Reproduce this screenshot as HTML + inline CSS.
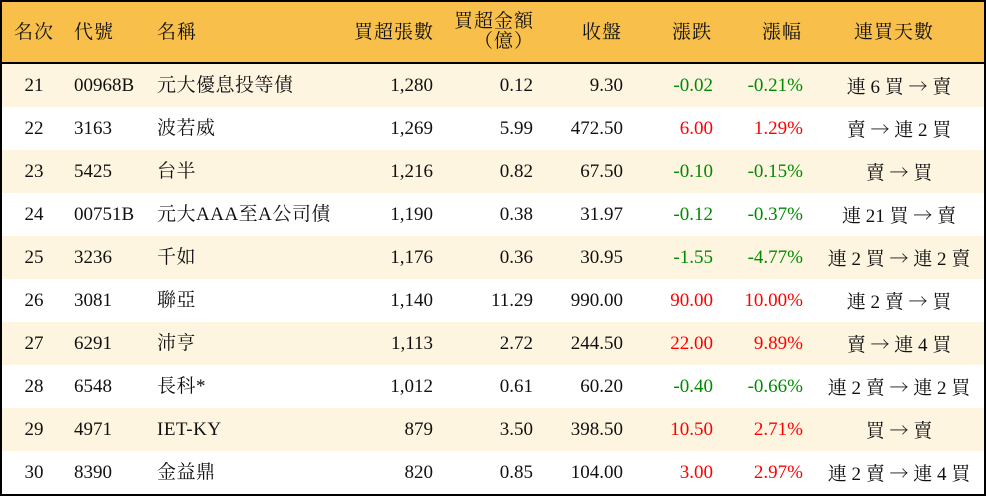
<!DOCTYPE html>
<html><head><meta charset="utf-8"><style>
body{margin:0;width:986px;height:496px;overflow:hidden;background:#fff;font-family:"Liberation Serif","Noto Serif CJK SC",serif;font-size:19px;color:#111}
.wrap{position:absolute;left:0;top:0;width:982px;height:492px;border:2px solid #000}
.hd{position:absolute;left:0;top:0;width:982px;height:60px;background:#F8C04A;border-bottom:2px solid #000}
.r{position:absolute;left:0;width:982px;height:43px}
.c{position:absolute;top:0;line-height:43px;white-space:nowrap}
.h{position:absolute;top:0;line-height:62px;white-space:nowrap;letter-spacing:1px}
.g{color:#008a00}.d{color:#ff0000}
.a{font-family:"Noto Serif CJK SC",serif}
</style></head><body><div class="wrap">
<div class="hd">
<span class="h" style="left:12px">名次</span>
<span class="h" style="left:72px">代號</span>
<span class="h" style="left:155px">名稱</span>
<span class="h" style="right:550px">買超張數</span>
<span class="h" style="right:450px;line-height:20px;top:10px;text-align:right">買超金額<br>（億）</span>
<span class="h" style="right:362px">收盤</span>
<span class="h" style="right:272px">漲跌</span>
<span class="h" style="right:182px">漲幅</span>
<span class="h" style="left:832px;width:120px;text-align:center">連買天數</span>
</div>
<div id="rows"></div>
</div>
<script>
var d=[["21","00968B","元大優息投等債","1,280","0.12","9.30","-0.02","-0.21%","連 6 買 → 賣"],
["22","3163","波若威","1,269","5.99","472.50","6.00","1.29%","賣 → 連 2 買"],
["23","5425","台半","1,216","0.82","67.50","-0.10","-0.15%","賣 → 買"],
["24","00751B","元大AAA至A公司債","1,190","0.38","31.97","-0.12","-0.37%","連 21 買 → 賣"],
["25","3236","千如","1,176","0.36","30.95","-1.55","-4.77%","連 2 買 → 連 2 賣"],
["26","3081","聯亞","1,140","11.29","990.00","90.00","10.00%","連 2 賣 → 買"],
["27","6291","沛亨","1,113","2.72","244.50","22.00","9.89%","賣 → 連 4 買"],
["28","6548","長科*","1,012","0.61","60.20","-0.40","-0.66%","連 2 賣 → 連 2 買"],
["29","4971","IET-KY","879","3.50","398.50","10.50","2.71%","買 → 賣"],
["30","8390","金益鼎","820","0.85","104.00","3.00","2.97%","連 2 賣 → 連 4 買"]];
var h="";d.forEach(function(r,i){var cl=r[6][0]=="-"?"g":"d";
h+='<div class="r" style="top:'+(62+43*i)+'px;background:'+(i%2==0?"#FEF5E0":"#fff")+'">'+
'<span class="c" style="left:10px;width:44px;text-align:center">'+r[0]+'</span>'+
'<span class="c" style="left:72px">'+r[1]+'</span>'+
'<span class="c" style="left:155px;letter-spacing:0.5px">'+r[2]+'</span>'+
'<span class="c" style="right:551px">'+r[3]+'</span>'+
'<span class="c" style="right:451px">'+r[4]+'</span>'+
'<span class="c" style="right:361px">'+r[5]+'</span>'+
'<span class="c '+cl+'" style="right:271px">'+r[6]+'</span>'+
'<span class="c '+cl+'" style="right:181px">'+r[7]+'</span>'+
'<span class="c" style="left:807px;width:180px;text-align:center">'+r[8].replace("→",'<span class="a">→</span>')+'</span></div>';});
document.getElementById("rows").innerHTML=h;
</script></body></html>
